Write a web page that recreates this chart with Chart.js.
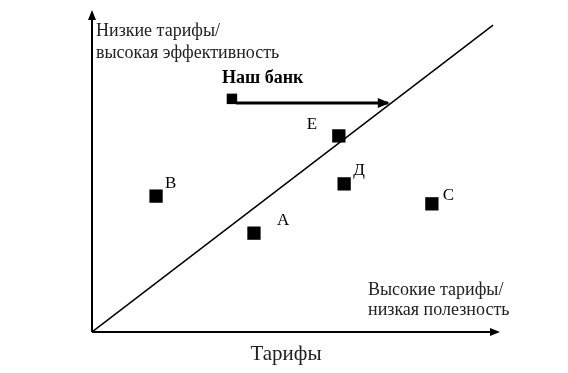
<!DOCTYPE html>
<html>
<head>
<meta charset="utf-8">
<script src="https://cdn.jsdelivr.net/npm/chart.js@4/dist/chart.umd.min.js"></script>
<style>
  html, body { margin:0; padding:0; background:#fff; }
  #wrap { width:568px; height:373px; }
</style>
</head>
<body>
<div id="wrap"><canvas id="bank-chart" width="568" height="373"></canvas></div>
<script>
// competitors on the tariffs / efficiency map
var bankNames = ["В", "А", "Е", "Д", "С"];
var bankX = [15.7, 39.7, 60.5, 61.8, 83.3];
var bankY = [42.2, 30.7, 60.9, 46.0, 39.8];

// our bank and where it is moving to
var ourName = "Наш банк";
var ourX = 34.3;
var ourY = 72.4;
var moveX = [35.3, 72.5];
var moveY = [71.1, 71.1];

// diagonal reference line
var diagX = [0, 98.3];
var diagY = [0, 95.3];

var yAxisTitle = ["Низкие тарифы/", "высокая эффективность"];
var xAxisTitle = ["Высокие тарифы/", "низкая полезность"];
var bottomTitle = "Тарифы";

// label offsets in pixels from point centre (left edge, baseline)
var labelOffsets = [[9, -8], [23, -8], [-32, -7], [9, -9], [11, -4]];

function toPoints(xs, ys) {
  return xs.map(function (x, i) { return { x: x, y: ys[i] }; });
}

var serif = "'Liberation Serif', 'DejaVu Serif', serif";

var drawExtras = {
  id: "drawExtras",
  afterDatasetsDraw: function (chart) {
    var ctx = chart.ctx;
    var xs = chart.scales.x, ys = chart.scales.y;
    var ox = xs.getPixelForValue(0), oy = ys.getPixelForValue(0);
    var right = chart.chartArea.right, top = chart.chartArea.top;
    ctx.save();
    ctx.strokeStyle = "#000";
    ctx.fillStyle = "#000";
    ctx.lineWidth = 2;
    // axes
    ctx.beginPath();
    ctx.moveTo(ox, oy); ctx.lineTo(right - 8, oy);
    ctx.moveTo(ox, oy); ctx.lineTo(ox, top + 8);
    ctx.stroke();
    ctx.beginPath();
    ctx.moveTo(right, oy); ctx.lineTo(right - 10, oy - 4); ctx.lineTo(right - 10, oy + 4); ctx.closePath();
    ctx.moveTo(ox, top); ctx.lineTo(ox - 4, top + 10); ctx.lineTo(ox + 4, top + 10); ctx.closePath();
    ctx.fill();

    // arrow head for our bank's move
    var ax = xs.getPixelForValue(moveX[1]), ay = ys.getPixelForValue(moveY[1]);
    ctx.beginPath();
    ctx.moveTo(ax + 2, ay); ctx.lineTo(ax - 10, ay - 5); ctx.lineTo(ax - 10, ay + 5); ctx.closePath();
    ctx.fill();

    // point labels
    ctx.font = "17px " + serif;
    ctx.textBaseline = "alphabetic";
    ctx.textAlign = "left";
    bankNames.forEach(function (name, i) {
      var px = xs.getPixelForValue(bankX[i]), py = ys.getPixelForValue(bankY[i]);
      ctx.fillText(name, px + labelOffsets[i][0], py + labelOffsets[i][1]);
    });
    ctx.font = "bold 18px " + serif;
    ctx.fillText(ourName, xs.getPixelForValue(ourX) - 10, ys.getPixelForValue(ourY) - 16);

    // axis captions
    ctx.font = "18px " + serif;
    ctx.fillStyle = "#222";
    ctx.fillText(yAxisTitle[0], ox + 4, top + 26);
    ctx.fillText(yAxisTitle[1], ox + 4, top + 48);
    ctx.fillText(xAxisTitle[0], ox + 276, oy - 37);
    ctx.fillText(xAxisTitle[1], ox + 276, oy - 17);
    ctx.font = "21px " + serif;
    ctx.textAlign = "center";
    ctx.fillText(bottomTitle, (ox + right) / 2 - 10, oy + 28);
    ctx.restore();
  }
};

new Chart("bank-chart", {
  type: "scatter",
  data: {
    datasets: [{
      label: "diagonal",
      data: toPoints(diagX, diagY),
      showLine: true,
      borderColor: "#000",
      borderWidth: 1.5,
      pointRadius: 0
    }, {
      label: "move",
      data: toPoints(moveX, moveY),
      showLine: true,
      borderColor: "#000",
      borderWidth: 3,
      pointRadius: 0
    }, {
      label: ourName,
      data: [{ x: ourX, y: ourY }],
      showLine: false,
      backgroundColor: "#000",
      borderWidth: 0,
      pointStyle: "rect",
      pointRadius: 7.4,
      pointHoverRadius: 7.4
    }, {
      label: "banks",
      data: toPoints(bankX, bankY),
      showLine: false,
      backgroundColor: "#000",
      borderColor: "#000",
      borderWidth: 0,
      pointStyle: "rect",
      pointRadius: 9.4,
      pointHoverRadius: 9.4
    }]
  },
  options: {
    responsive: false,
    animation: false,
    layout: { padding: { left: 92, right: 68, top: 10, bottom: 41 } },
    plugins: {
      legend: { display: false },
      tooltip: { enabled: false }
    },
    scales: {
      x: { type: "linear", min: 0, max: 100, display: false },
      y: { type: "linear", min: 0, max: 100, display: false }
    }
  },
  plugins: [drawExtras]
});
</script>
</body>
</html>
